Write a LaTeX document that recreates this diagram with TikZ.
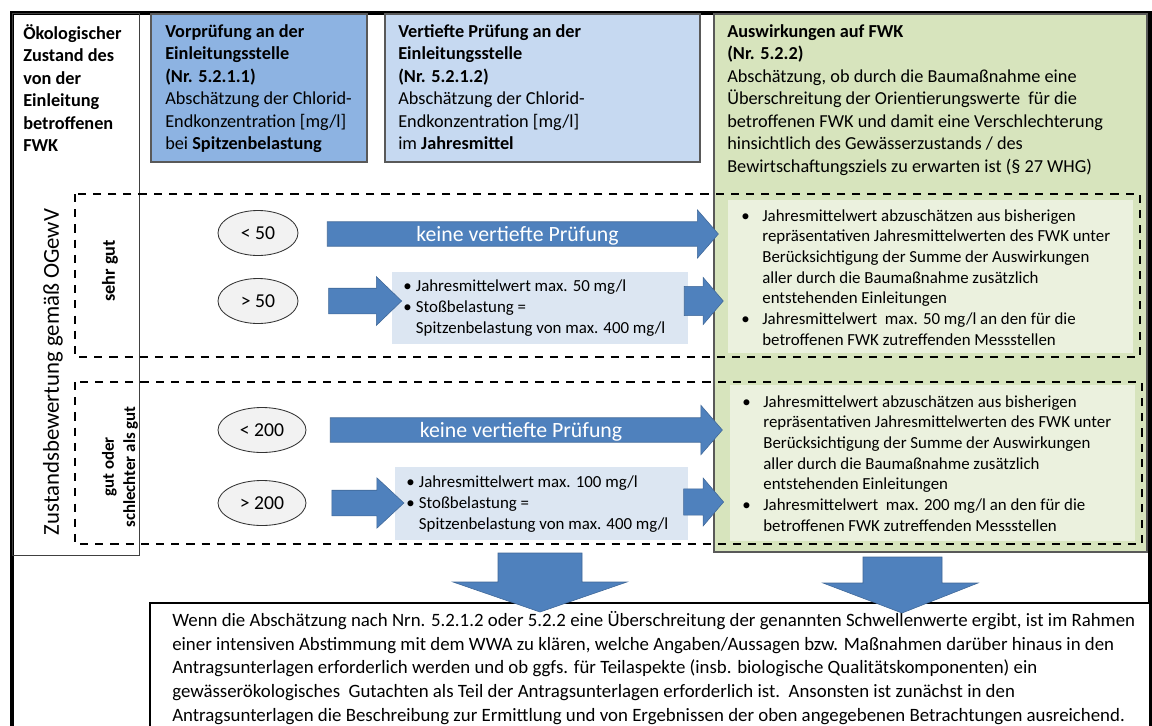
\documentclass[tikz,border=0pt]{standalone}
\usepackage{fontspec}
\setmainfont{Carlito}
\usetikzlibrary{shapes.geometric,shapes.arrows}

\definecolor{arrblue}{HTML}{4F81BD}
\definecolor{hdrblue}{HTML}{8DB3E2}
\definecolor{hdrlight}{HTML}{C6D9F1}
\definecolor{boxblue}{HTML}{DCE6F2}
\definecolor{fwkgreen}{HTML}{D7E4BD}
\definecolor{fwklight}{HTML}{EBF1DE}

\newcommand{\bu}{\makebox[15pt][l]{\textbullet}}
\newcommand{\bi}{\hspace*{15pt}}
\newcommand{\sbu}{\makebox[9pt][l]{\textbullet}}
\newcommand{\sbi}{\hspace*{9pt}}

\tikzset{
    hdrtext/.style={anchor=north west, inner sep=0, align=left, font=\fontsize{13}{16}\selectfont},
    fwktext/.style={anchor=north west, inner sep=0, align=left, font=\fontsize{12}{14.7}\selectfont},
    valtext/.style={anchor=north west, inner sep=0, align=left, font=\fontsize{12}{15}\selectfont},
    limit/.style={ellipse, draw=black!80, fill=black!5, line width=0.6pt, inner sep=0,
        minimum width=2cm, minimum height=1.125cm, font=\fontsize{14}{16}\selectfont},
    arrfill/.style={fill=arrblue, draw=arrblue!80!black, line width=0.4pt},
    blockarr/.style={single arrow, arrfill, inner xsep=0, anchor=center},
    textarr/.style={blockarr, inner ysep=0, text height=13.5pt, text depth=3.5pt, text=white,
        font=\fontsize{15.5}{18}\selectfont},
    dashbox/.style={draw=black, line width=1.8pt, dash pattern=on 5.8pt off 5pt},
    hdrbox/.style={draw=black!65, line width=0.8pt}
}

\begin{document}
\begin{tikzpicture}[x=0.025cm, y=-0.025cm]
    \useasboundingbox (0, 0) rectangle (1152, 725);

    % frame and left column
    \draw[line width=2.2pt] (12, 13) rectangle (1150, 740);
    \draw[line width=0.6pt, draw=black!75] (12, 13) rectangle (139, 555);
    \node[hdrtext, font=\fontsize{13}{16}\selectfont\bfseries] (zustand) at (23, 24)
        {Ökologischer\\Zustand des\\von der\\Einleitung\\betroffenen\\FWK};

    % column heads
    \draw[hdrbox, fill=hdrblue] (151, 14) rectangle (367, 162);
    \node[hdrtext] (vorpr) at (165, 24)
        {\textbf{Vorprüfung an der}\\\textbf{Einleitungsstelle}\\\textbf{(Nr. 5.2.1.1)}\\
         Abschätzung der Chlorid-\\Endkonzentration [mg/l]\\bei \textbf{Spitzenbelastung}};
    \draw[hdrbox, fill=hdrlight] (385, 14) rectangle (700, 162);
    \node[hdrtext] (vertpr) at (398, 24)
        {\textbf{Vertiefte Prüfung an der}\\\textbf{Einleitungsstelle}\\\textbf{(Nr. 5.2.1.2)}\\
         Abschätzung der Chlorid-\\Endkonzentration [mg/l]\\im \textbf{Jahresmittel}};
    \draw[hdrbox, fill=fwkgreen] (714, 14) rectangle (1147, 552);
    \node[hdrtext] (fwk) at (727, 24)
        {\textbf{Auswirkungen auf FWK}\\\textbf{(Nr. 5.2.2)}\\
         Abschätzung, ob durch die Baumaßnahme eine\\
         Überschreitung der Orientierungswerte\ \ für die\\
         betroffenen FWK und damit eine Verschlechterung\\
         hinsichtlich des Gewässerzustands / des\\
         Bewirtschaftungsziels zu erwarten ist (§ 27 WHG)};

    % inner boxes
    \fill[fwklight] (728, 200) rectangle (1133, 353);
    \fill[fwklight] (730, 385) rectangle (1135, 541);
    \fill[boxblue] (392, 272) rectangle (688, 344);
    \fill[boxblue] (395, 467) rectangle (688, 540);

    % state rows
    \draw[dashbox] (75, 194) rectangle (1140, 357);
    \draw[dashbox] (75, 382) rectangle (1142, 544);

    \node[rotate=90, font=\fontsize{16.2}{19}\selectfont] (ogewv) at (53, 372)
        {Zustandsbewertung gemäß OGewV};
    \node[rotate=90, font=\fontsize{13}{15}\selectfont\bfseries] (sehrgut) at (110, 271) {sehr gut};
    \node[rotate=90, align=center, font=\fontsize{12}{15}\selectfont\bfseries] (gut) at (120, 467)
        {gut oder\\schlechter als gut};

    \node[limit] (lt50) at (258, 233) {< 50};
    \node[limit] (gt50) at (258, 301) {> 50};
    \node[limit, minimum width=2.2cm] (lt200) at (262, 430) {< 200};
    \node[limit, minimum width=2.2cm] (gt200) at (262, 503) {> 200};

    % arrows
    \node[textarr, minimum height=9.775cm, minimum width=1.2cm, single arrow head extend=0.3cm,
        single arrow tip angle=98] (keine1) at (517.5, 234) {keine vertiefte Prüfung};
    \node[textarr, minimum height=9.8cm, minimum width=1.225cm, single arrow head extend=0.31cm,
        single arrow tip angle=98] (keine2) at (521, 430) {keine vertiefte Prüfung};
    \node[blockarr, inner ysep=0.3125cm, minimum height=1.825cm, minimum width=1.2cm,
        single arrow head extend=0.29cm, single arrow tip angle=88] (pr50) at (358.5, 301) {};
    \node[blockarr, inner ysep=0.3125cm, minimum height=1.8cm, minimum width=1.25cm,
        single arrow head extend=0.31cm, single arrow tip angle=86] (pr200) at (361, 503) {};
    \node[blockarr, inner ysep=0.36cm, minimum height=0.975cm, minimum width=1.175cm,
        single arrow head extend=0.225cm, single arrow tip angle=99] (to50) at (697.5, 301) {};
    \node[blockarr, inner ysep=0.32cm, minimum height=1cm, minimum width=1.175cm,
        single arrow head extend=0.27cm, single arrow tip angle=99] (to200) at (698, 502) {};

    % values
    \node[valtext] (val50) at (403, 279)
        {\sbu Jahresmittelwert max. 50 mg/l\\\sbu Stoßbelastung =\\\sbi Spitzenbelastung von max. 400 mg/l};
    \node[valtext] (val200) at (406, 475)
        {\sbu Jahresmittelwert max. 100 mg/l\\\sbu Stoßbelastung =\\\sbi Spitzenbelastung von max. 400 mg/l};

    \node[fwktext] (fwk50) at (741, 209)
        {\bu Jahresmittelwert abzuschätzen aus bisherigen\\
         \bi repräsentativen Jahresmittelwerten des FWK unter\\
         \bi Berücksichtigung der Summe der Auswirkungen\\
         \bi aller durch die Baumaßnahme zusätzlich\\
         \bi entstehenden Einleitungen\\
         \bu Jahresmittelwert\ \ max. 50 mg/l an den für die\\
         \bi betroffenen FWK zutreffenden Messstellen};
    \node[fwktext] (fwk200) at (742, 395)
        {\bu Jahresmittelwert abzuschätzen aus bisherigen\\
         \bi repräsentativen Jahresmittelwerten des FWK unter\\
         \bi Berücksichtigung der Summe der Auswirkungen\\
         \bi aller durch die Baumaßnahme zusätzlich\\
         \bi entstehenden Einleitungen\\
         \bu Jahresmittelwert\ \ max. 200 mg/l an den für die\\
         \bi betroffenen FWK zutreffenden Messstellen};

    % result
    \draw[line width=1.5pt, fill=white] (150, 603) rectangle (1150, 740);
    \node[hdrtext, font=\fontsize{13.4}{16.9}\selectfont] (ergebnis) at (172, 611)
        {Wenn die Abschätzung nach Nrn. 5.2.1.2 oder 5.2.2 eine Überschreitung der genannten Schwellenwerte ergibt, ist im Rahmen\\
         einer intensiven Abstimmung mit dem WWA zu klären, welche Angaben/Aussagen bzw. Maßnahmen darüber hinaus in den\\
         Antragsunterlagen erforderlich werden und ob ggfs. für Teilaspekte (insb. biologische Qualitätskomponenten) ein\\
         gewässerökologisches\ \ Gutachten als Teil der Antragsunterlagen erforderlich ist.\ \ Ansonsten ist zunächst in den\\
         Antragsunterlagen die Beschreibung zur Ermittlung und von Ergebnissen der oben angegebenen Betrachtungen ausreichend.};

    % down arrows
    \draw[arrfill] (498, 553) -- (582, 553) -- (582, 582) -- (627, 582) -- (540, 612)
        -- (453, 582) -- (498, 582) -- cycle;
    \draw[arrfill] (863, 557) -- (942, 557) -- (942, 583) -- (978, 583) -- (902, 613)
        -- (823, 583) -- (863, 583) -- cycle;
\end{tikzpicture}
\end{document}
